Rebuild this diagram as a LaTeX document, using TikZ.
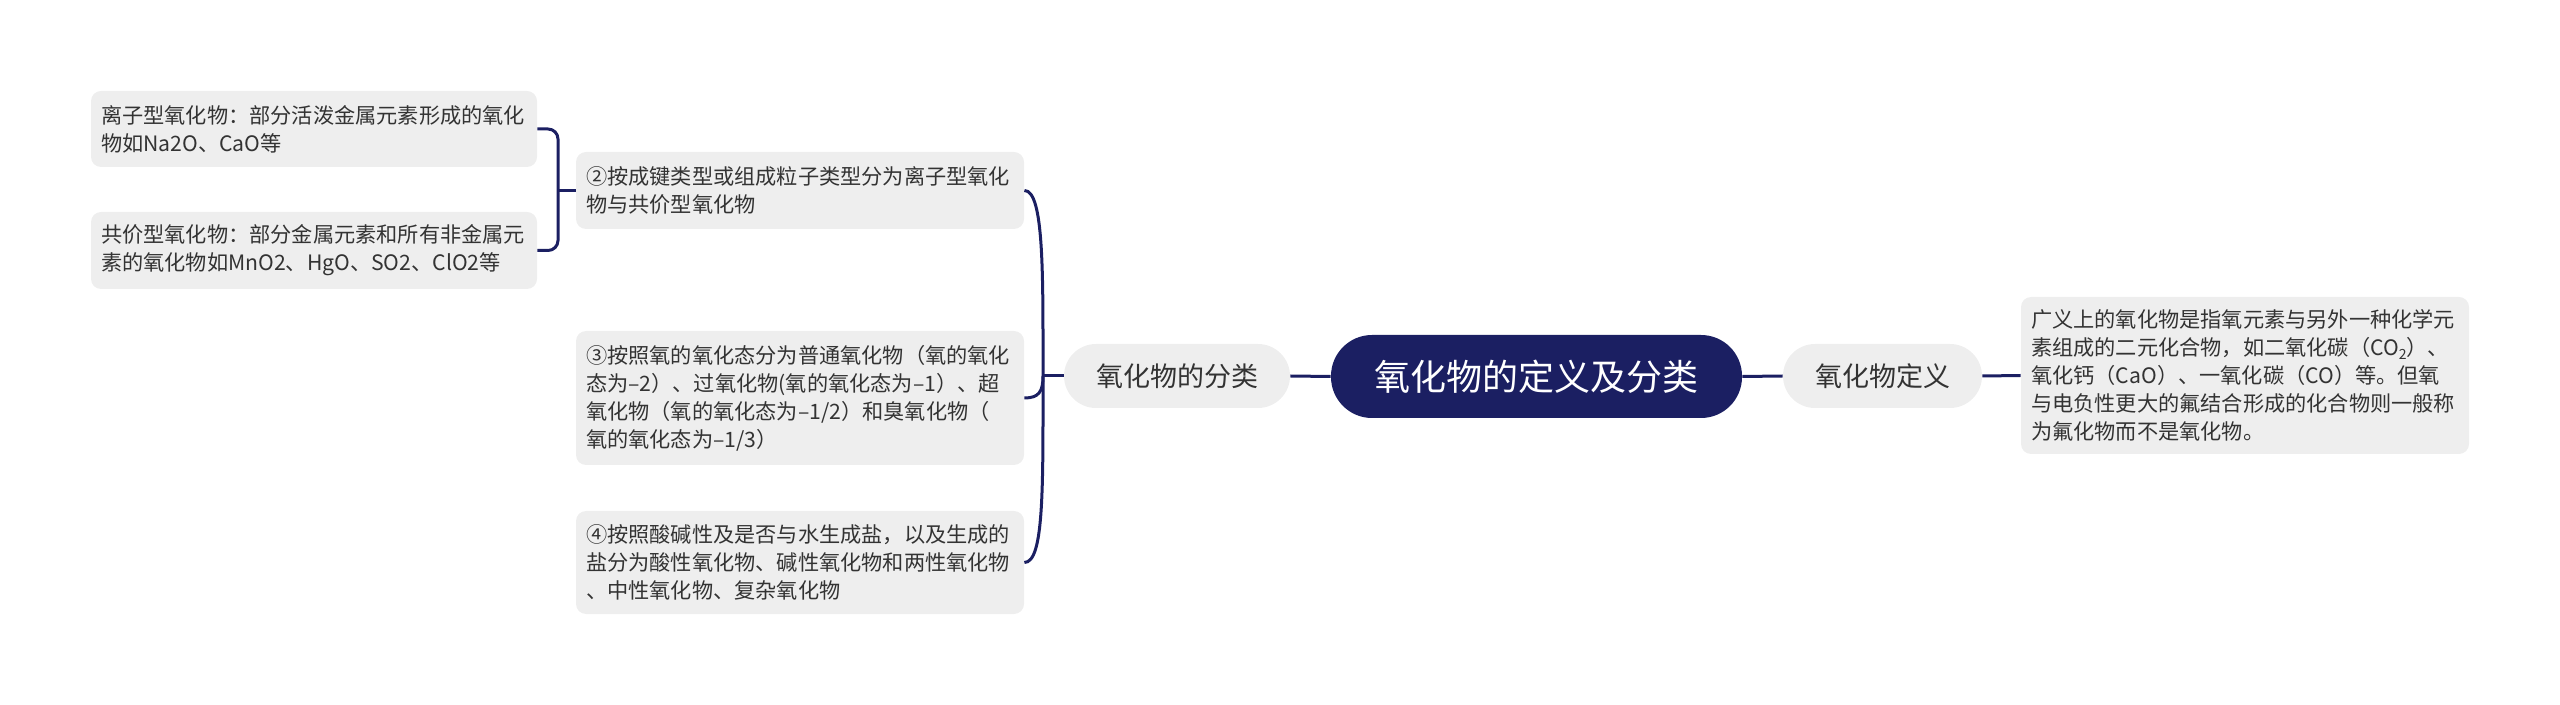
\documentclass[tikz,border=0pt]{standalone}
\usepackage{fontspec}
\setmainfont{Noto Sans CJK SC}
\usetikzlibrary{calc}
\definecolor{navy}{HTML}{1B1F62}
\definecolor{boxgray}{HTML}{EEEEEE}
\definecolor{txt}{HTML}{333333}
\begin{document}
\begin{tikzpicture}[x=0.5pt,y=-0.5pt,
  leaf/.style={fill=boxgray, draw=none, rounded corners=5pt, inner xsep=5pt, inner ysep=0pt,
    text width=214pt, align=left, font=\fontsize{10.6pt}{14pt}\selectfont, text=txt},
  pill/.style={fill=boxgray, draw=none, rounded corners=16pt, minimum height=32pt, inner sep=0pt,
    font=\fontsize{13.5pt}{16pt}\selectfont, text=txt},
  root/.style={fill=navy, draw=none, rounded corners=20.5pt, minimum height=41.5pt, minimum width=205.5pt,
    inner sep=0pt, font=\fontsize{18pt}{22pt}\selectfont, text=white},
  link/.style={draw=navy, line width=1.5pt}
]
\useasboundingbox (0,0) rectangle (2560,705);

\node[root] (root) at (1536.5,376.5) {氧化物的定义及分类};
\node[pill, minimum width=113pt] (fenlei) at (1177,376) {氧化物的分类};
\node[pill, minimum width=99.5pt] (dingyi) at (1882.5,376) {氧化物定义};

\node[leaf, minimum height=78.5pt] (def) at (2245,375.5) {广义上的氧化物是指氧元素与另外一种化学元\\素组成的二元化合物，如二氧化碳（CO\raisebox{-0.3ex}{\fontsize{7pt}{8pt}\selectfont 2}）、\\氧化钙（CaO）、一氧化碳（CO）等。但氧\\与电负性更大的氟结合形成的化合物则一般称\\为氟化物而不是氧化物。};

\node[leaf, minimum height=38.5pt] (two) at (800,190.5) {②按成键类型或组成粒子类型分为离子型氧化\\物与共价型氧化物};
\node[leaf, minimum height=67pt] (three) at (800,398) {③按照氧的氧化态分为普通氧化物（氧的氧化\\态为–2）、过氧化物(氧的氧化态为–1）、超\\氧化物（氧的氧化态为–1/2）和臭氧化物（\\氧的氧化态为–1/3）};
\node[leaf, minimum height=51.5pt] (four) at (800,562.5) {④按照酸碱性及是否与水生成盐，以及生成的\\盐分为酸性氧化物、碱性氧化物和两性氧化物\\、中性氧化物、复杂氧化物};

\node[leaf, text width=213pt, minimum height=38pt] (ionic) at (314,129) {离子型氧化物：部分活泼金属元素形成的氧化\\物如Na2O、CaO等};
\node[leaf, text width=213pt, minimum height=38.5pt] (cov) at (314,250.5) {共价型氧化物：部分金属元素和所有非金属元\\素的氧化物如MnO2、HgO、SO2、ClO2等};

% right side
\draw[link] (root.east) -- (dingyi.west);
\draw[link] (dingyi.east) -- (def.west);

% left side
\draw[link] (root.west) -- (fenlei.east);
\coordinate (J) at (1043,376);
\draw[link] (fenlei.west) -- (J);
\draw[link] (J) .. controls ($(J)!0.55!(J |- two.east)$) and ($(J |- two.east)+(1,0)$) .. (two.east);
\draw[link] (J) .. controls ($(J)!0.7!(J |- three.east)$) and ($(J |- three.east)+(-4,0)$) .. (three.east);
\draw[link] (J) .. controls ($(J)!0.6!(J |- four.east)$) and ($(J |- four.east)+(1,0)$) .. (four.east);

\coordinate (K) at (558,190.5);
\draw[link] (two.west) -- (K);
\draw[link, rounded corners=5pt] (ionic.east) -- (K |- ionic.east) -- (K |- cov.east) -- (cov.east);
\end{tikzpicture}
\end{document}
